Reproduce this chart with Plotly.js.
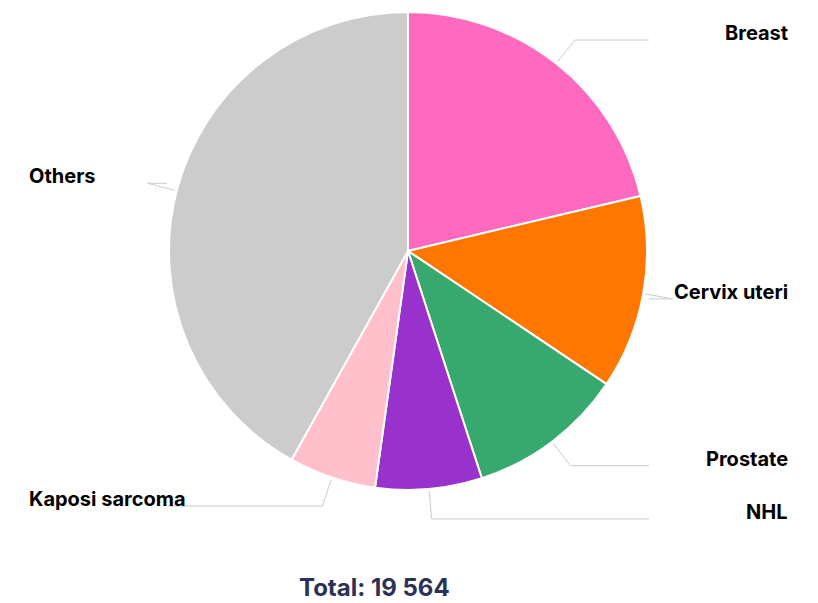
<!DOCTYPE html>
<html>
<head>
<meta charset="utf-8">
<script src="https://cdn.plot.ly/plotly-3.0.1.min.js"></script>
<style>html,body{margin:0;padding:0;background:#fff;}#chart{width:818px;height:603px;}</style>
</head>
<body>
<div id="chart"></div>
<script>
var categories = ["Breast", "Cervix uteri", "Prostate", "NHL", "Kaposi sarcoma", "Others"];
var values = [4167, 2563, 2074, 1409, 1154, 8197];
var colors = ["#FF69C0", "#FF7700", "#37A96E", "#9932CC", "#FFC0CB", "#CCCCCC"];
var totalLabel = "Total: 19 564";

var W = 818, H = 603;
var cx = 408, cy = 251, R = 239;
function px(x) { return x / W; }
function py(y) { return 1 - y / H; }

var total = values.reduce(function (a, b) { return a + b; }, 0);
var shapes = [], annotations = [];
var cum = 0;
for (var i = 0; i < values.length; i++) {
  var mid = (cum + values[i] / 2) / total * 2 * Math.PI;
  cum += values[i];
  var sx = cx + (R + 2) * Math.sin(mid), sy = cy - (R + 2) * Math.cos(mid);
  var ex = cx + (R + 30) * Math.sin(mid), ey = cy - (R + 30) * Math.cos(mid);
  var right = Math.sin(mid) >= 0;
  var hx = right ? 649 : 167;
  var lineStyle = {color: "#CCCCCC", width: 1};
  shapes.push({type: "line", xref: "paper", yref: "paper", x0: px(sx), y0: py(sy), x1: px(ex), y1: py(ey), line: lineStyle});
  shapes.push({type: "line", xref: "paper", yref: "paper", x0: px(ex), y0: py(ey), x1: px(hx), y1: py(ey), line: lineStyle});
  annotations.push({
    text: categories[i], xref: "paper", yref: "paper",
    x: right ? px(790) : px(27), y: py(ey - 7),
    xanchor: right ? "right" : "left", yanchor: "middle",
    showarrow: false,
    font: {family: "Inter, 'DejaVu Sans', sans-serif", size: 20, color: "#000000", weight: 700}
  });
}
annotations.push({
  text: totalLabel, xref: "paper", yref: "paper", x: px(374), y: py(587),
  xanchor: "center", yanchor: "middle", showarrow: false,
  font: {family: "Inter, 'DejaVu Sans', sans-serif", size: 24, color: "#2B3157", weight: 700}
});

var data = [{
  type: "pie",
  labels: categories,
  values: values,
  sort: false,
  direction: "clockwise",
  rotation: 0,
  textinfo: "none",
  hoverinfo: "label+value+percent",
  marker: {colors: colors, line: {color: "#FFFFFF", width: 2}},
  domain: {x: [px(cx - R), px(cx + R)], y: [py(cy + R), py(cy - R)]}
}];

var layout = {
  width: W, height: H,
  margin: {l: 0, r: 0, t: 0, b: 0},
  showlegend: false,
  paper_bgcolor: "#FFFFFF",
  shapes: shapes,
  annotations: annotations
};

Plotly.newPlot("chart", data, layout, {displayModeBar: false, staticPlot: true});
</script>
</body>
</html>
